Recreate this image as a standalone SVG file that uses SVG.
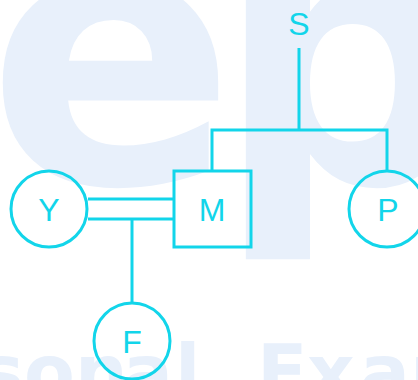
<svg xmlns="http://www.w3.org/2000/svg" width="418" height="380" viewBox="0 0 418 380">
<style>
.wm{fill:#e8f0fb;font-family:"DejaVu Sans",sans-serif;font-weight:bold}
.ln{fill:none;stroke:#12d5ea;stroke-width:3}
.nd{fill:none;stroke:#12d5ea;stroke-width:3}
.lb{fill:#12d5ea;font-family:"Liberation Sans",Arial,sans-serif;font-size:32px;text-anchor:middle}
</style>
<rect width="418" height="380" fill="#ffffff"/>
<g id="watermark">
<text class="wm" x="-13" y="183" font-size="367">e</text>
<text class="wm" x="215" y="183" font-size="367">p</text>
<text class="wm" y="398" font-size="74" x="-20 24 75 123 175 203 257 307 360">sonal Exam</text>
</g>
<g id="connectors">
<line class="ln" x1="299" y1="48" x2="299" y2="130"/>
<polyline class="ln" points="212,171 212,130 387,130 387,171"/>
<line class="ln" x1="88" y1="199" x2="174" y2="199"/>
<line class="ln" x1="88" y1="219" x2="174" y2="219"/>
<line class="ln" x1="132" y1="219" x2="132" y2="303"/>
</g>
<g id="node-S"><text class="lb" x="299" y="35">S</text></g>
<g id="node-M"><rect class="nd" x="174" y="171" width="77" height="76"/><text class="lb" x="212" y="221">M</text></g>
<g id="node-P"><circle class="nd" cx="387" cy="209" r="38"/><text class="lb" x="388" y="221">P</text></g>
<g id="node-Y"><circle class="nd" cx="49" cy="209" r="38"/><text class="lb" x="49" y="221">Y</text></g>
<g id="node-F"><circle class="nd" cx="132" cy="341" r="38"/><text class="lb" x="132" y="353">F</text></g>
</svg>
